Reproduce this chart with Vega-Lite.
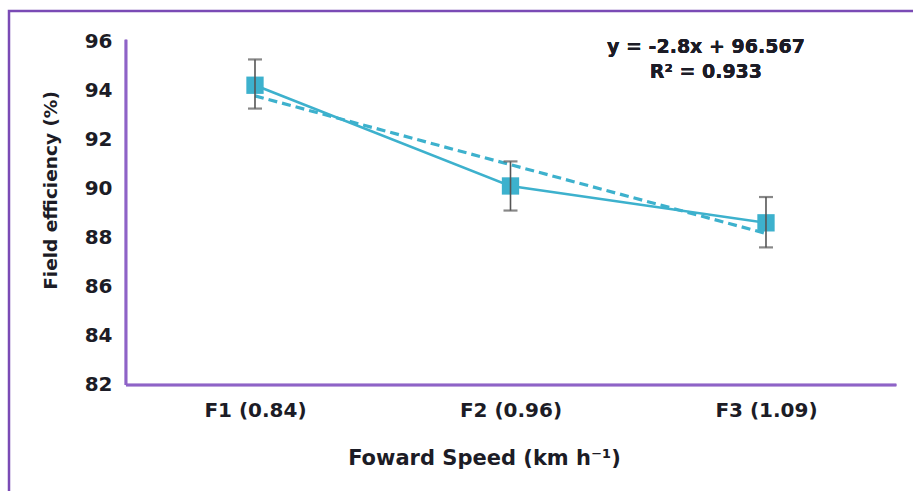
{
  "$schema": "https://vega.github.io/schema/vega-lite/v6.json",
  "width": 920,
  "height": 500,
  "autosize": "none",
  "padding": {"left": 9, "top": 11, "right": 0, "bottom": 0},
  "background": "white",
  "config": {
    "view": {"stroke": "#7A4BB5", "strokeWidth": 2.5},
    "font": "DejaVu Sans"
  },
  "data": {
    "values": [
      {"speed": 1, "label": "F1 (0.84)", "eff": 94.2, "lo": 93.25, "hi": 95.25, "trend": 93.767},
      {"speed": 2, "label": "F2 (0.96)", "eff": 90.1, "lo": 89.1, "hi": 91.1, "trend": 90.967},
      {"speed": 3, "label": "F3 (1.09)", "eff": 88.6, "lo": 87.6, "hi": 89.65, "trend": 88.167}
    ]
  },
  "layer": [
    {
      "mark": {"type": "rule", "color": "#8E63C7", "strokeWidth": 2.5},
      "encoding": {
        "x": {"datum": 0.495, "type": "quantitative"},
        "x2": {"datum": 3.51},
        "y": {"datum": 82, "type": "quantitative"}
      }
    },
    {
      "mark": {"type": "rule", "color": "#8E63C7", "strokeWidth": 2.5},
      "encoding": {
        "x": {"datum": 0.495, "type": "quantitative"},
        "y": {"datum": 82, "type": "quantitative"},
        "y2": {"datum": 96.05}
      }
    },
    {
      "mark": {"type": "line", "color": "#3DB1CD", "strokeWidth": 3.2, "strokeDash": [9, 5]},
      "encoding": {
        "x": {"field": "speed", "type": "quantitative", "title": "Foward Speed (km h⁻¹)"},
        "y": {"field": "trend", "type": "quantitative", "title": "Field efficiency (%)"}
      }
    },
    {
      "mark": {"type": "line", "color": "#3DB1CD", "strokeWidth": 2.6},
      "encoding": {
        "x": {
          "field": "speed",
          "type": "quantitative",
          "title": "Foward Speed (km h⁻¹)",
          "scale": {"domain": [0.0372, 3.638], "nice": false, "zero": false},
          "axis": {
            "values": [1, 2, 3],
            "labelExpr": "datum.value == 1 ? 'F1 (0.84)' : datum.value == 2 ? 'F2 (0.96)' : 'F3 (1.09)'",
            "domain": false,
            "ticks": false,
            "grid": false,
            "offset": -126,
            "labelPadding": 15,
            "labelFontSize": 20,
            "labelFontWeight": "bold",
            "labelColor": "#1c1c26",
            "labelFlush": false,
            "labelOverlap": false,
            "titleFontSize": 21,
            "titleFontWeight": "bold",
            "titleColor": "#1c1c26",
            "titleX": 475,
            "titleY": 73,
            "titleAlign": "center",
            "titleBaseline": "middle"
          }
        },
        "y": {
          "field": "eff",
          "type": "quantitative",
          "title": "Field efficiency (%)",
          "scale": {"domain": [76.872, 97.221], "nice": false, "zero": false},
          "axis": {
            "values": [82, 84, 86, 88, 90, 92, 94, 96],
            "domain": false,
            "ticks": false,
            "grid": false,
            "offset": -117,
            "labelPadding": 14,
            "labelFontSize": 20,
            "labelFontWeight": "bold",
            "labelColor": "#1c1c26",
            "titleFontSize": 18.5,
            "titleFontWeight": "bold",
            "titleColor": "#1c1c26",
            "titleAngle": -90,
            "titleX": -76,
            "titleY": 179,
            "titleAlign": "center",
            "titleBaseline": "middle"
          }
        }
      }
    },
    {
      "mark": {"type": "square", "filled": true, "color": "#3DB1CD", "size": 300, "opacity": 1},
      "encoding": {
        "x": {"field": "speed", "type": "quantitative", "title": "Foward Speed (km h⁻¹)"},
        "y": {"field": "eff", "type": "quantitative", "title": "Field efficiency (%)"}
      }
    },
    {
      "mark": {"type": "errorbar", "color": "#555555", "thickness": 1.6, "ticks": {"size": 14, "thickness": 2.2, "color": "#555555"}},
      "encoding": {
        "x": {"field": "speed", "type": "quantitative", "title": "Foward Speed (km h⁻¹)"},
        "y": {"field": "lo", "type": "quantitative", "title": "Field efficiency (%)"},
        "y2": {"field": "hi"}
      }
    },
    {
      "mark": {"type": "text", "text": "y = -2.8x + 96.567", "fontSize": 19, "fontWeight": "bold", "color": "#1c1c26", "align": "center", "baseline": "middle"},
      "encoding": {
        "x": {"datum": 2.765, "type": "quantitative"},
        "y": {"datum": 95.76, "type": "quantitative"}
      }
    },
    {
      "mark": {"type": "text", "text": "R² = 0.933", "fontSize": 19, "fontWeight": "bold", "color": "#1c1c26", "align": "center", "baseline": "middle"},
      "encoding": {
        "x": {"datum": 2.765, "type": "quantitative"},
        "y": {"datum": 94.74, "type": "quantitative"}
      }
    }
  ]
}
